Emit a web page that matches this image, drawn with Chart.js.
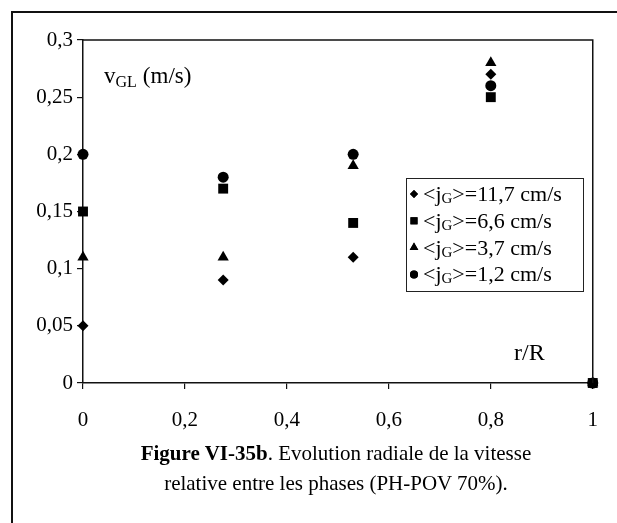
<!DOCTYPE html>
<html><head><meta charset="utf-8">
<script src="https://cdn.jsdelivr.net/npm/chart.js@4/dist/chart.umd.min.js"></script>
<style>
html,body{margin:0;padding:0;background:#fff;}
#wrap{position:relative;width:617px;height:523px;overflow:hidden;}
#c{position:absolute;left:0;top:0;}
#frameL{position:absolute;left:11px;top:11px;width:2px;height:520px;background:#111;}
#frameT{position:absolute;left:11px;top:11px;width:606px;height:2px;background:#111;}
#cap{position:absolute;left:36px;width:600px;top:438px;text-align:center;font-family:"Liberation Serif","Times New Roman",serif;font-size:21px;line-height:30px;color:#000;}
</style></head>
<body><div id="wrap">
<canvas id="c" width="617" height="470"></canvas>
<div id="frameL"></div><div id="frameT"></div>
<div id="cap"><b>Figure VI-35b</b>. Evolution radiale de la vitesse<br>relative entre les phases (PH-POV 70%).</div>
</div>
<script>
const rR = [0, 0.275, 0.53, 0.8, 1];
const jG117 = [0.05, 0.09, 0.11, 0.27, 0];
const jG66 = [0.15, 0.17, 0.14, 0.25, 0];
const jG37 = [0.11, 0.11, 0.19, 0.28, 0];
const jG12 = [0.20, 0.18, 0.20, 0.26, 0];
const seriesLabels = ["=11,7 cm/s", "=6,6 cm/s", "=3,7 cm/s", "=1,2 cm/s"];
const xTicks = [0, 0.2, 0.4, 0.6, 0.8, 1];
const yTicks = [0, 0.05, 0.1, 0.15, 0.2, 0.25, 0.3];

const pts = ys => rR.map((x, i) => ({x: x, y: ys[i]}));
const SERIF = '"Liberation Serif","Times New Roman",serif';
const fmt = v => String(Math.round(v * 100) / 100).replace('.', ',');

const mk = (label, ys, style, r, legendIdx) => ({
  label, data: pts(ys), pointStyle: style, pointRadius: r, pointHoverRadius: r,
  backgroundColor: '#000', borderColor: '#000', borderWidth: 0, showLine: false, clip: false, legendIdx
});
// square first so it is drawn on top at the wall point
const datasets = [
  mk(seriesLabels[1], jG66, 'rect', 7, 1),
  mk(seriesLabels[0], jG117, 'rectRot', 5.5, 0),
  mk(seriesLabels[2], jG37, 'triangle', 6.5, 2),
  mk(seriesLabels[3], jG12, 'circle', 5.5, 3)
];

const deco = {
  id: 'deco',
  afterDraw(chart) {
    const ctx = chart.ctx, a = chart.chartArea;
    ctx.save();
    ctx.strokeStyle = '#111'; ctx.lineWidth = 1.5;
    ctx.beginPath();
    ctx.moveTo(a.left, a.top); ctx.lineTo(a.right, a.top); ctx.lineTo(a.right, a.bottom);
    ctx.stroke();
    // axis titles
    ctx.fillStyle = '#000'; ctx.textBaseline = 'alphabetic'; ctx.textAlign = 'left';
    ctx.font = '23px ' + SERIF;
    let x = 104, y = 83;
    ctx.fillText('v', x, y); x += ctx.measureText('v').width;
    ctx.font = '16px ' + SERIF; ctx.fillText('GL', x, y + 4); x += ctx.measureText('GL').width + 6;
    ctx.font = '23px ' + SERIF; ctx.fillText('(m/s)', x, y);
    ctx.font = '24px ' + SERIF;
    ctx.fillText('r/R', 514, 360);
    // legend
    const lx = 406, ly = 178, lw = 177, lh = 113;
    ctx.fillStyle = '#fff'; ctx.fillRect(lx, ly, lw, lh);
    ctx.strokeStyle = '#222'; ctx.lineWidth = 1; ctx.strokeRect(lx + 0.5, ly + 0.5, lw, lh);
    const items = chart.data.datasets.slice().sort((p, q) => p.legendIdx - q.legendIdx);
    items.forEach((d, i) => {
      const cy = ly + 16 + i * 26.8;
      const r = d.pointStyle === 'rect' ? 5 : (d.pointStyle === 'triangle' ? 5 : 4);
      ctx.fillStyle = '#000';
      Chart.helpers.drawPoint(ctx, {pointStyle: d.pointStyle, radius: r, borderWidth: 0}, lx + 8, cy);
      ctx.fill();
      let tx = lx + 17, by = cy + 7;
      ctx.font = '22px ' + SERIF; ctx.fillText('<j', tx, by); tx += ctx.measureText('<j').width;
      ctx.font = '15px ' + SERIF; ctx.fillText('G', tx, by + 2); tx += ctx.measureText('G').width;
      ctx.font = '22px ' + SERIF; ctx.fillText('>' + d.label, tx, by);
    });
    ctx.restore();
  }
};

new Chart(document.getElementById('c'), {
  type: 'scatter',
  data: {datasets},
  options: {
    responsive: false, animation: false,
    layout: {padding: {left: 0, right: 19, top: 40, bottom: 0}},
    plugins: {legend: {display: false}, tooltip: {enabled: false}},
    scales: {
      x: {
        type: 'linear', min: 0, max: 1,
        afterBuildTicks: s => { s.ticks = xTicks.map(v => ({value: v})); },
        afterFit: s => { s.height = 87; },
        border: {color: '#111', width: 1.5},
        grid: {drawOnChartArea: false, tickLength: 6, color: '#111', lineWidth: 1.2},
        ticks: {padding: 19, color: '#000', font: {family: SERIF, size: 21}, callback: v => fmt(v), maxRotation: 0}
      },
      y: {
        type: 'linear', min: 0, max: 0.3,
        afterBuildTicks: s => { s.ticks = yTicks.map(v => ({value: v})); },
        afterFit: s => { s.width = 83; },
        border: {color: '#111', width: 1.5},
        grid: {drawOnChartArea: false, tickLength: 6, color: '#111', lineWidth: 1.2},
        ticks: {padding: 4, color: '#000', font: {family: SERIF, size: 21}, callback: v => fmt(v)}
      }
    }
  },
  plugins: [deco]
});
</script></body></html>
